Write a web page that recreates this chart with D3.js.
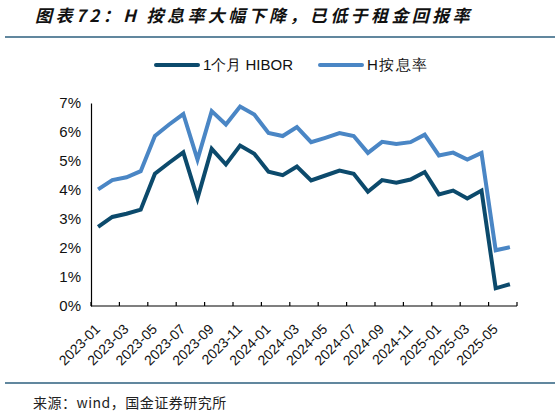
<!DOCTYPE html>
<html>
<head>
<meta charset="utf-8">
<script src="https://cdn.jsdelivr.net/npm/d3@7"></script>
<style>
  body { margin: 0; background: #fff; }
  text { font-family: "Liberation Sans", Arial, sans-serif; }
</style>
</head>
<body>
<div id="chart"></div>
<script>
// months 2023-01 .. 2025-06
var months = ["2023-01","2023-02","2023-03","2023-04","2023-05","2023-06","2023-07","2023-08","2023-09","2023-10","2023-11","2023-12",
              "2024-01","2024-02","2024-03","2024-04","2024-05","2024-06","2024-07","2024-08","2024-09","2024-10","2024-11","2024-12",
              "2025-01","2025-02","2025-03","2025-04","2025-05","2025-06"];

var hibor = [2.73,3.07,3.18,3.32,4.56,4.94,5.30,3.71,5.42,4.88,5.53,5.25,
             4.63,4.51,4.81,4.33,4.50,4.67,4.56,3.94,4.34,4.25,4.36,4.62,
             3.85,3.98,3.71,3.98,0.61,0.75];

var hRate = [4.02,4.34,4.44,4.65,5.86,6.26,6.62,5.05,6.72,6.26,6.88,6.60,
             5.97,5.86,6.17,5.65,5.80,5.96,5.86,5.28,5.66,5.59,5.65,5.91,
             5.19,5.29,5.05,5.28,1.92,2.03];

var yTicks = [0,1,2,3,4,5,6,7];
var seriesNames = ["1个月 HIBOR", "H按息率"];
var colors = ["#0c4a6c", "#4a86c5"];

var W = 559, H = 416;
var margin = {top: 103, right: 42, bottom: 110, left: 91},
    width = W - margin.left - margin.right,
    height = H - margin.top - margin.bottom;

var svg = d3.select("#chart")
  .append("svg")
    .attr("width", W)
    .attr("height", H);

// title
svg.append("text")
  .attr("x", 35)
  .attr("y", 22)
  .style("font-family", "'Noto Sans CJK SC', sans-serif")
  .style("font-size", "17px")
  .style("font-weight", "bold")
  .style("font-style", "italic")
  .style("letter-spacing", "3.4px")
  .attr("fill", "#111")
  .text("图表72：H 按息率大幅下降，已低于租金回报率");

svg.append("line")
  .attr("x1", 5).attr("x2", 555)
  .attr("y1", 37).attr("y2", 37)
  .attr("stroke", "#2d5f7e")
  .attr("stroke-width", 1.5);

svg.append("line")
  .attr("x1", 5).attr("x2", 555)
  .attr("y1", 383).attr("y2", 383)
  .attr("stroke", "#2d5f7e")
  .attr("stroke-width", 1.5);

svg.append("text")
  .attr("x", 33)
  .attr("y", 408)
  .style("font-family", "'Noto Sans CJK SC', monospace")
  .style("font-size", "14px")
  .style("letter-spacing", "0.5px")
  .attr("fill", "#222")
  .text("来源：wind，国金证券研究所");

// legend
var legendX = [156, 320];
var legendSpacing = ["0px", "1.5px"];
seriesNames.forEach(function(name, i) {
  svg.append("line")
    .attr("x1", legendX[i]).attr("x2", legendX[i] + 42)
    .attr("y1", 65).attr("y2", 65)
    .attr("stroke", colors[i])
    .attr("stroke-width", 4)
    .attr("stroke-linecap", "round");
  svg.append("text")
    .attr("x", legendX[i] + 47)
    .attr("y", 70)
    .style("font-size", "15px")
    .style("letter-spacing", legendSpacing[i])
    .attr("fill", "#111")
    .text(name);
});

var g = svg.append("g")
  .attr("transform", "translate(" + margin.left + "," + margin.top + ")");

var x = d3.scaleBand()
  .domain(months)
  .range([0, width]);

var y = d3.scaleLinear()
  .domain([0, 7])
  .range([height, 0]);

// y axis
var yAxis = g.append("g")
  .call(d3.axisLeft(y).tickValues(yTicks).tickSize(0).tickPadding(10)
    .tickFormat(function(d) { return d + "%"; }));
yAxis.select(".domain").attr("stroke", "#000").attr("stroke-width", 1.2);
yAxis.selectAll("text").style("font-size", "15px").attr("fill", "#111");

// x axis baseline
g.append("line")
  .attr("x1", 0).attr("x2", width)
  .attr("y1", height).attr("y2", height)
  .attr("stroke", "#000").attr("stroke-width", 1.2);

// ticks at category boundaries every two months
var boundaries = d3.range(0, months.length + 1, 2);
g.selectAll(".xtick")
  .data(boundaries)
  .enter().append("line")
    .attr("x1", function(d) { return d === months.length ? width : x(months[d]); })
    .attr("x2", function(d) { return d === months.length ? width : x(months[d]); })
    .attr("y1", height).attr("y2", height - 4)
    .attr("stroke", "#000").attr("stroke-width", 1.2);

// labels
var labelMonths = months.filter(function(d, i) { return i % 2 === 0; });
g.selectAll(".xlabel")
  .data(labelMonths)
  .enter().append("text")
    .attr("transform", function(d) {
      return "translate(" + (x(d) + x.bandwidth() / 2 + 3) + "," + (height + 24) + ") rotate(-45)";
    })
    .attr("text-anchor", "end")
    .style("font-size", "14px")
    .attr("fill", "#111")
    .text(function(d) { return d; });

// lines
var line = d3.line()
  .x(function(d, i) { return x(months[i]) + x.bandwidth() / 2; })
  .y(function(d) { return y(d); });

[hRate, hibor].forEach(function(s, k) {
  g.append("path")
    .datum(s)
    .attr("fill", "none")
    .attr("stroke", k === 0 ? colors[1] : colors[0])
    .attr("stroke-width", 4)
    .attr("stroke-linejoin", "miter")
    .attr("d", line);
});
</script>
</body>
</html>
